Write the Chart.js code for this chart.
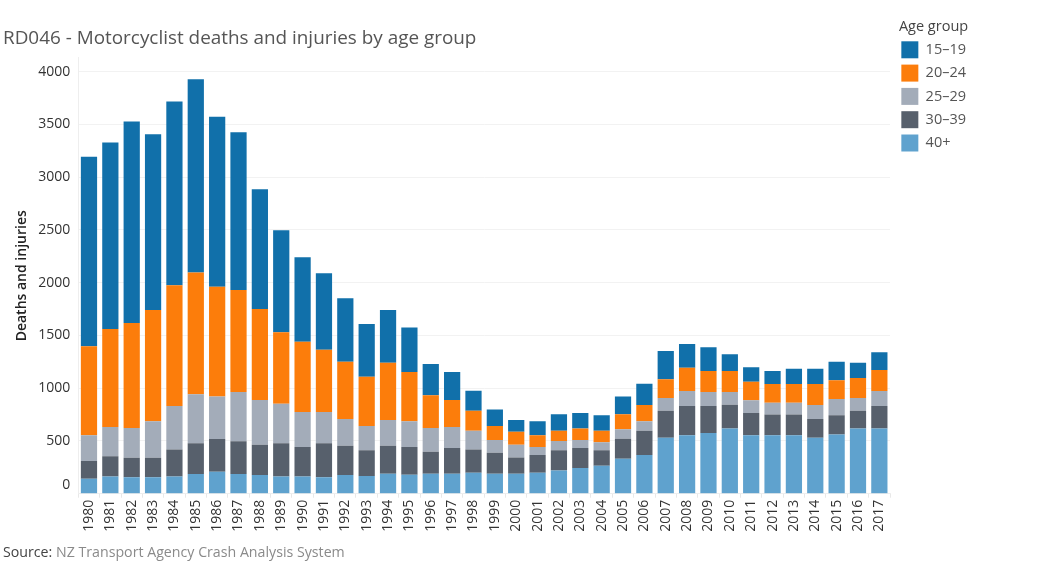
<!DOCTYPE html>
<html>
<head>
<meta charset="utf-8">
<title>RD046</title>
<script src="https://cdn.jsdelivr.net/npm/chart.js@4"></script>
<style>
  body { margin: 0; background: #fff; }
  #wrap { position: relative; width: 1050px; height: 564px; }
  #source { position: absolute; left: 3px; top: 542px; font: 14.2px "Open Sans", sans-serif; color: #8a8a8a; white-space: nowrap; }
  #source b { font-weight: normal; color: #444; }
</style>
</head>
<body>
<div id="wrap">
  <canvas id="crashChart" width="1050" height="564"></canvas>
  <div id="source"><b>Source:</b> NZ Transport Agency Crash Analysis System</div>
</div>
<script>
const years = [1980, 1981, 1982, 1983, 1984, 1985, 1986, 1987, 1988, 1989, 1990, 1991, 1992, 1993, 1994, 1995, 1996, 1997, 1998, 1999, 2000, 2001, 2002, 2003, 2004, 2005, 2006, 2007, 2008, 2009, 2010, 2011, 2012, 2013, 2014, 2015, 2016, 2017];
const yTicks = [0, 500, 1000, 1500, 2000, 2500, 3000, 3500, 4000];

// values, one array per age group
const age40plus = [142, 164, 155, 155, 164, 186, 209, 186, 177, 164, 164, 155, 177, 167, 190, 180, 190, 190, 199, 190, 190, 199, 221, 243, 265, 332, 367, 531, 553, 575, 619, 553, 553, 553, 531, 562, 619, 619];
const age30to39 = [168, 190, 186, 186, 256, 291, 309, 310, 288, 313, 278, 322, 278, 244, 265, 262, 208, 243, 221, 199, 154, 168, 190, 190, 146, 189, 230, 256, 278, 256, 225, 212, 198, 198, 177, 181, 168, 212];
const age25to29 = [243, 278, 282, 345, 411, 465, 402, 468, 423, 376, 332, 297, 253, 230, 243, 244, 224, 199, 177, 120, 121, 75, 88, 76, 76, 89, 89, 120, 142, 133, 120, 120, 112, 112, 133, 154, 120, 142];
const age20to24 = [844, 929, 995, 1055, 1144, 1153, 1042, 967, 863, 676, 667, 591, 543, 468, 544, 467, 310, 256, 190, 132, 123, 111, 98, 110, 110, 142, 155, 177, 221, 199, 199, 177, 177, 177, 199, 177, 190, 199];
const age15to19 = [1797, 1766, 1908, 1665, 1741, 1833, 1609, 1494, 1134, 968, 800, 725, 601, 499, 499, 422, 297, 265, 189, 158, 110, 133, 155, 146, 146, 168, 202, 268, 225, 224, 158, 136, 123, 145, 145, 177, 145, 168];

const fontName = '"Open Sans", sans-serif';

// the title and the legend sit further left/right than the layout puts them
const placeBlocks = {
  id: 'placeBlocks',
  afterUpdate(chart) {
    chart.titleBlock.left = 3;
    chart.legend.left += 5;
    chart.legend.width = 77;
  },
};

const makeDataset = (label, data, color) => ({
  label,
  data,
  backgroundColor: color,
  borderWidth: 0,
  barPercentage: 0.76,
  categoryPercentage: 1,
});

new Chart(document.getElementById('crashChart'), {
  type: 'bar',
  data: {
    labels: years,
    datasets: [
      makeDataset('40+', age40plus, '#5fa2ce'),
      makeDataset('30\u201339', age30to39, '#57606c'),
      makeDataset('25\u201329', age25to29, '#a3acb9'),
      makeDataset('20\u201324', age20to24, '#fc7d0b'),
      makeDataset('15\u201319', age15to19, '#1170aa'),
    ],
  },
  plugins: [placeBlocks],
  options: {
    responsive: false,
    animation: false,
    layout: { padding: { right: 79 } },
    plugins: {
      tooltip: { enabled: false },
      title: {
        display: true,
        text: 'RD046 - Motorcyclist deaths and injuries by age group',
        align: 'start',
        fullSize: false,
        color: '#555',
        font: { family: fontName, size: 18.9, weight: 'normal' },
        padding: { top: 27.6, bottom: 7.6 },
      },
      legend: {
        position: 'right',
        align: 'start',
        reverse: true,
        title: {
          display: true,
          text: 'Age group',
          position: 'center',
          color: '#444',
          font: { family: fontName, size: 14.5 },
          padding: { top: 20, bottom: -2.4 },
        },
        labels: {
          boxWidth: 17,
          boxHeight: 17,
          padding: 6.3,
          color: '#555',
          font: { family: fontName, size: 14.5 },
        },
      },
    },
    scales: {
      x: {
        stacked: true,
        afterFit: (scale) => { scale.height = 70.3; },
        grid: { drawOnChartArea: false, color: '#e8e8e8', tickLength: 4 },
        border: { color: '#eeeeee' },
        ticks: {
          minRotation: 90,
          maxRotation: 90,
          autoSkip: false,
          padding: 2,
          color: '#333',
          font: { family: fontName, size: 14 },
        },
      },
      y: {
        stacked: true,
        min: 0,
        max: 4130,
        afterFit: (scale) => { scale.width = 78.3; },
        afterBuildTicks: (scale) => { scale.ticks = yTicks.map((value) => ({ value })); },
        title: {
          display: true,
          text: 'Deaths and injuries',
          color: '#222',
          font: { family: fontName, size: 14, weight: '600' },
          padding: { top: 14, bottom: 0 },
        },
        grid: { color: '#f2f2f2', drawTicks: false },
        border: { color: '#eeeeee' },
        ticks: {
          padding: 8,
          color: '#333',
          font: { family: fontName, size: 14 },
          // the zero label sits above its line in the original
          callback: (value) => (value === 0 ? ['0', ''] : String(value)),
        },
      },
    },
  },
});
</script>
</body>
</html>
